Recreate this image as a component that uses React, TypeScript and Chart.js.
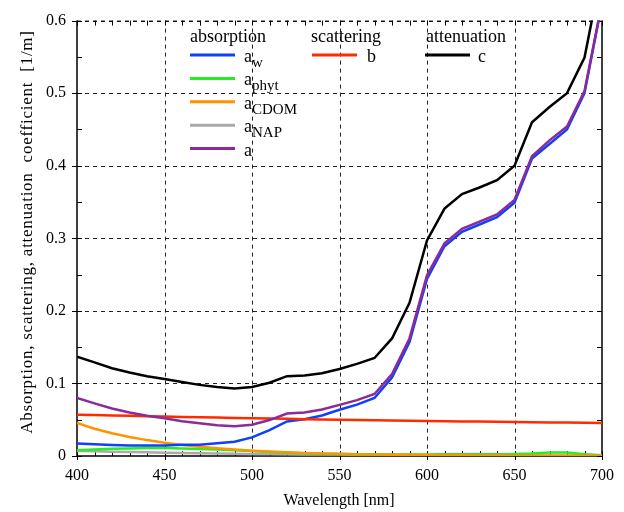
import React, { useEffect, useRef } from 'react';
import { Chart, registerables } from 'chart.js';

Chart.register(...registerables);

// Wavelength grid [nm]
const wavelengths = [400, 410, 420, 430, 440, 450, 460, 470, 480, 490, 500, 510, 520, 530, 540, 550, 560, 570, 580, 590, 600, 610, 620, 630, 640, 650, 660, 670, 680, 690, 700];

// absorption components [1/m]
const aW = [0.0171, 0.0162, 0.0153, 0.0144, 0.0145, 0.0145, 0.0156, 0.0156, 0.0176, 0.0196, 0.0257, 0.0357, 0.0477, 0.0507, 0.0558, 0.0638, 0.0708, 0.0799, 0.108, 0.157, 0.244, 0.289, 0.309, 0.319, 0.329, 0.349, 0.41, 0.43, 0.45, 0.5, 0.624];
const aPhyt = [0.008, 0.009, 0.010, 0.0105, 0.011, 0.011, 0.0105, 0.0098, 0.009, 0.008, 0.0068, 0.0055, 0.0045, 0.0038, 0.0032, 0.0027, 0.0024, 0.0022, 0.0021, 0.0021, 0.0022, 0.0023, 0.0024, 0.0025, 0.0025, 0.0026, 0.0033, 0.0048, 0.0048, 0.0025, 0.001];
const aCDOM = [0.0454, 0.0376, 0.0314, 0.0262, 0.0219, 0.0183, 0.0153, 0.0128, 0.0107, 0.0089, 0.0074, 0.0062, 0.0052, 0.0043, 0.0036, 0.003, 0.0025, 0.0021, 0.0018, 0.0015, 0.0012, 0.001, 0.0009, 0.0007, 0.0006, 0.0005, 0.0004, 0.0004, 0.0003, 0.0003, 0.0002];
const aNAP = [0.007, 0.0065, 0.006, 0.0055, 0.005, 0.0046, 0.0042, 0.0038, 0.0035, 0.0032, 0.0029, 0.0027, 0.0024, 0.0022, 0.002, 0.0019, 0.0017, 0.0016, 0.0014, 0.0013, 0.0012, 0.0011, 0.001, 0.0009, 0.0009, 0.0008, 0.0008, 0.0007, 0.0006, 0.0006, 0.0005];
const aTotal = [0.080, 0.0725, 0.0655, 0.060, 0.0555, 0.052, 0.048, 0.045, 0.0425, 0.041, 0.043, 0.0495, 0.0585, 0.060, 0.064, 0.0705, 0.077, 0.0855, 0.113, 0.162, 0.249, 0.293, 0.313, 0.323, 0.333, 0.353, 0.413, 0.435, 0.454, 0.503, 0.625];
// scattering [1/m]
const bScat = [0.057, 0.0564, 0.0558, 0.0553, 0.0548, 0.0543, 0.0538, 0.0533, 0.0529, 0.0524, 0.052, 0.0516, 0.0512, 0.0508, 0.0504, 0.05, 0.0497, 0.0493, 0.049, 0.0487, 0.0483, 0.048, 0.0477, 0.0474, 0.0471, 0.0468, 0.0466, 0.0463, 0.046, 0.0458, 0.0455];
// attenuation [1/m]
const cAtt = [0.137, 0.129, 0.121, 0.115, 0.110, 0.106, 0.102, 0.098, 0.095, 0.093, 0.095, 0.101, 0.110, 0.111, 0.114, 0.120, 0.127, 0.135, 0.162, 0.211, 0.297, 0.341, 0.361, 0.370, 0.380, 0.400, 0.460, 0.481, 0.500, 0.549, 0.671];

const xTickValues = [400, 450, 500, 550, 600, 650, 700];
const yTickValues = [0, 0.1, 0.2, 0.3, 0.4, 0.5, 0.6];

const FONT = '"Liberation Serif", "Times New Roman", serif';

const colors = {
  aW: '#1040ff',
  aPhyt: '#22ee22',
  aCDOM: '#ff9400',
  aNAP: '#aaaaaa',
  a: '#8c2a98',
  b: '#ff2a00',
  c: '#000000',
};

const toPts = (ys: number[]) => wavelengths.map((x, i) => ({ x, y: ys[i] }));

const framePlugin = {
  id: 'framePlugin',
  beforeDatasetsDraw(chart: any) {
    const { ctx, chartArea } = chart;
    const { left, right, top, bottom } = chartArea;
    const xs = chart.scales.x;
    const ys = chart.scales.y;
    ctx.save();
    // dashed grid
    ctx.strokeStyle = '#222';
    ctx.lineWidth = 1;
    ctx.setLineDash([4, 4]);
    for (const v of xTickValues) {
      if (v === 400 || v === 700) continue;
      const px = Math.round(xs.getPixelForValue(v)) + 0.5;
      ctx.beginPath();
      ctx.moveTo(px, top);
      ctx.lineTo(px, bottom);
      ctx.stroke();
    }
    for (const v of yTickValues) {
      if (v === 0) continue;
      const py = Math.round(ys.getPixelForValue(v)) + 0.5;
      ctx.beginPath();
      ctx.moveTo(left, py);
      ctx.lineTo(right, py);
      ctx.stroke();
    }
    ctx.setLineDash([]);
    // minor / major ticks
    ctx.lineWidth = 1;
    ctx.strokeStyle = '#000';
    for (let v = 400; v <= 700; v += 10) {
      const px = Math.round(xs.getPixelForValue(v)) + 0.5;
      const major = v % 50 === 0;
      ctx.beginPath();
      ctx.moveTo(px, bottom + (major ? 4 : 0));
      ctx.lineTo(px, bottom - 5);
      ctx.moveTo(px, top);
      ctx.lineTo(px, top + 5);
      ctx.stroke();
    }
    for (let i = 0; i <= 12; i++) {
      const v = i * 0.05;
      const py = Math.round(ys.getPixelForValue(v)) + 0.5;
      const major = i % 2 === 0;
      ctx.beginPath();
      ctx.moveTo(left - (major ? 5 : 0), py);
      ctx.lineTo(left + 5, py);
      ctx.moveTo(right, py);
      ctx.lineTo(right - 5, py);
      ctx.stroke();
    }
    // frame
    ctx.lineWidth = 1.5;
    ctx.beginPath();
    ctx.moveTo(left, top);
    ctx.lineTo(left, bottom);
    ctx.lineTo(right, bottom);
    ctx.lineTo(right, top);
    ctx.stroke();
    ctx.lineWidth = 1;
    ctx.setLineDash([4, 4]);
    ctx.beginPath();
    ctx.moveTo(left, top + 0.5);
    ctx.lineTo(right, top + 0.5);
    ctx.stroke();
    ctx.restore();
  },
  afterDraw(chart: any) {
    const { ctx } = chart;
    ctx.save();
    ctx.fillStyle = '#000';
    ctx.textBaseline = 'alphabetic';
    // axis titles
    ctx.font = `16px ${FONT}`;
    ctx.textAlign = 'center';
    ctx.fillText('Wavelength [nm]', 339, 505);
    ctx.save();
    ctx.font = `17px ${FONT}`;
    try {
      (ctx as any).letterSpacing = '0.75px';
    } catch (e) {
      /* ignore */
    }
    ctx.translate(32, 232);
    ctx.rotate(-Math.PI / 2);
    ctx.fillText('Absorption, scattering, attenuation  coefficient  [1/m]', 0, 0);
    ctx.restore();

    // legend
    ctx.textAlign = 'left';
    ctx.font = `18px ${FONT}`;
    ctx.fillText('absorption', 190, 42);
    ctx.fillText('scattering', 311, 42);
    ctx.fillText('attenuation', 426, 42);

    const entry = (x0: number, y: number, color: string, main: string, sub: string, textX: number) => {
      ctx.strokeStyle = color;
      ctx.lineWidth = 3;
      ctx.beginPath();
      ctx.moveTo(x0, y);
      ctx.lineTo(x0 + 45, y);
      ctx.stroke();
      ctx.fillStyle = '#000';
      ctx.font = `18px ${FONT}`;
      ctx.fillText(main, textX, y + 7);
      if (sub) {
        const w = ctx.measureText(main).width;
        ctx.font = `15px ${FONT}`;
        ctx.fillText(sub, textX + w, y + 12);
      }
    };
    const step = 23.4;
    entry(190, 55, colors.aW, 'a', 'w', 244);
    entry(190, 55 + step, colors.aPhyt, 'a', 'phyt', 244);
    entry(190, 55 + 2 * step, colors.aCDOM, 'a', 'CDOM', 244);
    entry(190, 55 + 3 * step, colors.aNAP, 'a', 'NAP', 244);
    entry(190, 55 + 4 * step, colors.a, 'a', '', 244);
    entry(312, 55, colors.b, 'b', '', 367);
    entry(425, 55, colors.c, 'c', '', 478);
    ctx.restore();
  },
};

export default function App() {
  const canvasRef = useRef<HTMLCanvasElement | null>(null);

  useEffect(() => {
    const canvas = canvasRef.current;
    if (!canvas) return;
    const ds = (label: string, ys: number[], color: string, order: number) => ({
      label,
      data: toPts(ys),
      borderColor: color,
      backgroundColor: color,
      borderWidth: 2.5,
      pointRadius: 0,
      tension: 0,
      fill: false,
      order,
    });
    const chart = new Chart(canvas, {
      type: 'line',
      data: {
        datasets: [
          ds('c', cAtt, colors.c, 0),
          ds('a', aTotal, colors.a, 1),
          ds('b', bScat, colors.b, 2),
          ds('a_w', aW, colors.aW, 3),
          ds('a_CDOM', aCDOM, colors.aCDOM, 4),
          ds('a_phyt', aPhyt, colors.aPhyt, 5),
          ds('a_NAP', aNAP, colors.aNAP, 6),
        ],
      },
      options: {
        animation: false,
        responsive: false,
        devicePixelRatio: 1,
        layout: { padding: { top: 15, right: 22, left: 0, bottom: 0 } },
        plugins: {
          legend: { display: false },
          tooltip: { enabled: false },
        },
        scales: {
          x: {
            type: 'linear',
            min: 400,
            max: 700,
            afterBuildTicks: (scale: any) => {
              scale.ticks = xTickValues.map((v) => ({ value: v }));
            },
            afterFit: (scale: any) => {
              scale.height = 56;
            },
            grid: { display: false, drawTicks: false },
            border: { display: false },
            ticks: {
              color: '#000',
              padding: 10,
              maxRotation: 0,
              autoSkip: false,
              font: { family: FONT, size: 16 },
              callback: (v: any) => String(v),
            },
          },
          y: {
            type: 'linear',
            min: 0,
            max: 0.6,
            afterBuildTicks: (scale: any) => {
              scale.ticks = yTickValues.map((v) => ({ value: v }));
            },
            afterFit: (scale: any) => {
              scale.width = 77;
            },
            grid: { display: false, drawTicks: false },
            border: { display: false },
            ticks: {
              color: '#000',
              padding: 11,
              autoSkip: false,
              font: { family: FONT, size: 16 },
              callback: (v: any) => (Number(v) === 0 ? '0' : Number(v).toFixed(1)),
            },
          },
        },
      },
      plugins: [framePlugin],
    });
    return () => chart.destroy();
  }, []);

  return (
    <div style={{ position: 'absolute', left: 0, top: 0, width: 624, height: 512, background: '#fff' }}>
      <canvas ref={canvasRef} width={624} height={512} style={{ display: 'block', width: 624, height: 512 }} />
    </div>
  );
}
